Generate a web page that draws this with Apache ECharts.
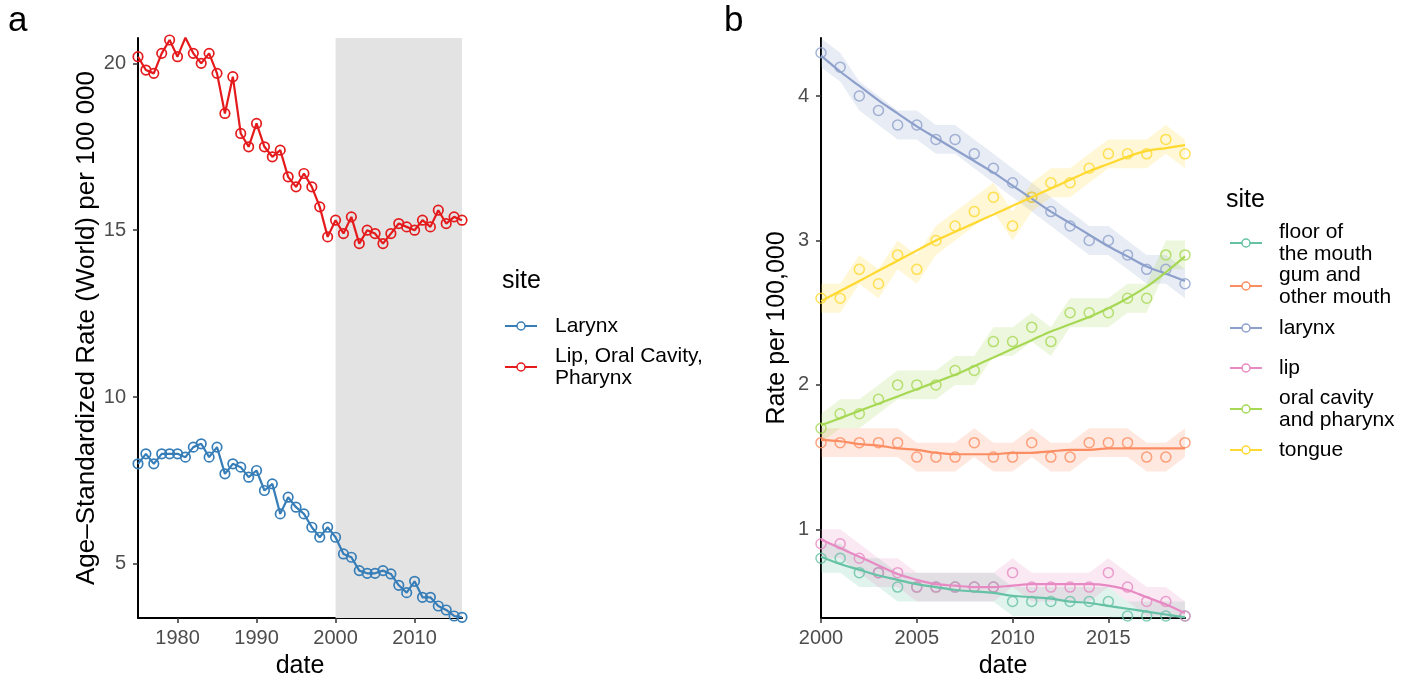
<!DOCTYPE html>
<html>
<head>
<meta charset="utf-8">
<script src="https://cdn.jsdelivr.net/npm/echarts@6/dist/echarts.min.js"></script>
<style>
html,body{margin:0;padding:0;background:#fff;}
#chart{width:1414px;height:684px;}
</style>
</head>
<body>
<div id="chart"></div>
<script>
// ---------- Panel a data ----------
const yearsA = [1975,1976,1977,1978,1979,1980,1981,1982,1983,1984,1985,1986,1987,1988,1989,1990,1991,1992,1993,1994,1995,1996,1997,1998,1999,2000,2001,2002,2003,2004,2005,2006,2007,2008,2009,2010,2011,2012,2013,2014,2015,2016];
const laryxA = [8.0,8.3,8.0,8.3,8.3,8.3,8.2,8.5,8.6,8.2,8.5,7.7,8.0,7.9,7.6,7.8,7.2,7.4,6.5,7.0,6.7,6.5,6.1,5.8,6.1,5.8,5.3,5.2,4.8,4.72,4.72,4.8,4.7,4.36,4.14,4.48,4.0,4.0,3.74,3.62,3.44,3.4];
const lipOralA = [20.2,19.8,19.7,20.3,20.7,20.2,20.77,20.3,20.0,20.3,19.7,18.5,19.6,17.9,17.5,18.2,17.5,17.2,17.4,16.6,16.3,16.7,16.3,15.7,14.8,15.3,14.9,15.4,14.6,15.0,14.9,14.6,14.9,15.2,15.1,15.0,15.3,15.1,15.6,15.2,15.4,15.3];
const shadeA = [2000, 2016];
const xTicksA = [1980,1990,2000,2010];
const yTicksA = [5,10,15,20];

// ---------- Panel b data ----------
const yearsB = [2000,2001,2002,2003,2004,2005,2006,2007,2008,2009,2010,2011,2012,2013,2014,2015,2016,2017,2018,2019];
const floorB  = [0.8,0.8,0.7,0.7,0.6,0.6,0.6,0.6,0.6,0.6,0.5,0.5,0.5,0.5,0.5,0.5,0.4,0.4,0.4,0.4];
const gumB    = [1.6,1.6,1.6,1.6,1.6,1.5,1.5,1.5,1.6,1.5,1.5,1.6,1.5,1.5,1.6,1.6,1.6,1.5,1.5,1.6];
const larynxB = [4.3,4.2,4.0,3.9,3.8,3.8,3.7,3.7,3.6,3.5,3.4,3.3,3.2,3.1,3.0,3.0,2.9,2.8,2.8,2.7];
const lipB    = [0.9,0.9,0.8,0.7,0.7,0.6,0.6,0.6,0.6,0.6,0.7,0.6,0.6,0.6,0.6,0.7,0.6,0.5,0.5,0.4];
const oralB   = [1.7,1.8,1.8,1.9,2.0,2.0,2.0,2.1,2.1,2.3,2.3,2.4,2.3,2.5,2.5,2.5,2.6,2.6,2.9,2.9];
const tongueB = [2.6,2.6,2.8,2.7,2.9,2.8,3.0,3.1,3.2,3.3,3.1,3.3,3.4,3.4,3.5,3.6,3.6,3.6,3.7,3.6];
// smoothed (loess) curves
const floorFit  = [0.81,0.76,0.72,0.68,0.65,0.62,0.60,0.58,0.57,0.56,0.54,0.53,0.52,0.50,0.49,0.47,0.45,0.43,0.41,0.39];
const gumFit    = [1.62,1.61,1.59,1.58,1.56,1.55,1.53,1.52,1.52,1.52,1.53,1.53,1.54,1.55,1.55,1.56,1.56,1.56,1.56,1.56];
const larynxFit = [4.28,4.17,4.07,3.97,3.88,3.79,3.71,3.63,3.55,3.47,3.38,3.29,3.20,3.12,3.04,2.96,2.89,2.82,2.77,2.72];
const lipFit    = [0.93,0.87,0.81,0.75,0.69,0.65,0.62,0.61,0.60,0.60,0.61,0.62,0.62,0.62,0.62,0.61,0.58,0.53,0.48,0.42];
const oralFit   = [1.72,1.77,1.82,1.87,1.92,1.97,2.02,2.07,2.13,2.19,2.25,2.31,2.37,2.42,2.47,2.53,2.60,2.68,2.78,2.89];
const tongueFit = [2.58,2.65,2.72,2.79,2.86,2.93,3.00,3.06,3.12,3.18,3.24,3.30,3.36,3.42,3.48,3.53,3.58,3.62,3.64,3.66];
const bandHalf = 0.1; // half-width of the shaded ribbons
const sitesB = ['floor of the mouth','gum and other mouth','larynx','lip','oral cavity and pharynx','tongue'];
const labelsB = ['floor of\nthe mouth','gum and\nother mouth','larynx','lip','oral cavity\nand pharynx','tongue'];
const xTicksB = [2000,2005,2010,2015];
const yTicksB = [1,2,3,4];

// ---------- styling ----------
const FONT = '"Liberation Sans", Arial, Helvetica, sans-serif';
const colA = {larynx:'#377EB8', lip:'#E41A1C'};
const colB = ['#66C2A5','#FC8D62','#8DA0CB','#E78AC3','#A6D854','#FFD92F'];
const valsB = [floorB, gumB, larynxB, lipB, oralB, tongueB];
const fitsB = [floorFit, gumFit, larynxFit, lipFit, oralFit, tongueFit];

function rgba(hex, a){
  const n = parseInt(hex.slice(1),16);
  return 'rgba(' + ((n>>16)&255) + ',' + ((n>>8)&255) + ',' + (n&255) + ',' + a + ')';
}
function pairs(xs, ys){ return xs.map((x,i)=>[x, ys[i]]); }

function axisBase(ticks, labelMargin){
  return {
    type:'value',
    axisLine:{show:true, onZero:false, lineStyle:{color:'#000', width:2}},
    axisTick:{show:true, length:5, customValues:ticks, lineStyle:{color:'#333', width:1.5}},
    axisLabel:{customValues:ticks, color:'#4d4d4d', fontSize:20, fontFamily:FONT, margin:labelMargin,
               formatter:function(v){ return String(v); }},
    splitLine:{show:false},
    nameLocation:'middle',
    nameTextStyle:{fontSize:25, color:'#000', fontFamily:FONT}
  };
}

const series = [];
// shaded region panel a
series.push({
  type:'line', xAxisIndex:0, yAxisIndex:0, data:[], z:1, silent:true,
  markArea:{silent:true, itemStyle:{color:'#e3e3e3'}, data:[[{xAxis:shadeA[0]},{xAxis:shadeA[1]}]]}
});
[['Larynx', laryxA, colA.larynx], ['Lip, Oral Cavity, Pharynx', lipOralA, colA.lip]].forEach(function(s){
  series.push({
    name:s[0], type:'line', xAxisIndex:0, yAxisIndex:0, z:3,
    data:pairs(yearsA, s[1]),
    symbol:'circle', symbolSize:9.5, showAllSymbol:true,
    lineStyle:{color:s[2], width:2.2},
    itemStyle:{color:'rgba(0,0,0,0)', borderColor:s[2], borderWidth:1.7},
    silent:true
  });
});

// panel b ribbons
sitesB.forEach(function(name, k){
  const v = valsB[k];
  series.push({
    type:'custom', xAxisIndex:1, yAxisIndex:1, z:1, silent:true,
    data:[[yearsB[0], v[0]]],
    renderItem:function(params, api){
      const pts = [];
      for (let i=0;i<yearsB.length;i++) pts.push(api.coord([yearsB[i], v[i]+bandHalf]));
      for (let i=yearsB.length-1;i>=0;i--) pts.push(api.coord([yearsB[i], v[i]-bandHalf]));
      const cs = params.coordSys;
      return {
        type:'polygon', shape:{points:pts},
        style:{fill:rgba(colB[k],0.2)},
        clipPath:{type:'rect', shape:{x:cs.x, y:cs.y, width:cs.width, height:cs.height}}
      };
    }
  });
});
// panel b points
sitesB.forEach(function(name, k){
  series.push({
    name:name, type:'scatter', xAxisIndex:1, yAxisIndex:1, z:3, silent:true,
    data:pairs(yearsB, valsB[k]), symbol:'circle', symbolSize:10,
    itemStyle:{color:'rgba(0,0,0,0)', borderColor:colB[k], borderWidth:1.5}
  });
});
// panel b smooth lines
sitesB.forEach(function(name, k){
  series.push({
    name:name, type:'line', xAxisIndex:1, yAxisIndex:1, z:4, silent:true,
    data:pairs(yearsB, fitsB[k]), showSymbol:false, smooth:0.35,
    lineStyle:{color:colB[k], width:2.2}
  });
});

// legends and panel letters as graphics
const graphics = [];
function txt(x, y, text, size, color, extra){
  const st = Object.assign({text:text, x:x, y:y, fill:color||'#000', font: size + 'px ' + FONT, verticalAlign:'middle', align:'left'}, extra||{});
  graphics.push({type:'text', silent:true, style:st});
}
function key(x, y, color){
  graphics.push({type:'line', silent:true, shape:{x1:x, y1:y, x2:x+32, y2:y}, style:{stroke:color, lineWidth:2}});
  graphics.push({type:'circle', silent:true, shape:{cx:x+16, cy:y, r:4}, style:{fill:'#fff', stroke:color, lineWidth:1.5}});
}
txt(8, 21, 'a', 35);
txt(724, 21, 'b', 35);
// legend a
txt(502, 281, 'site', 25);
key(505, 326, colA.larynx); txt(555, 326, 'Larynx', 21);
key(505, 367, colA.lip); txt(555, 367, 'Lip, Oral Cavity,\nPharynx', 21, '#000', {lineHeight:22});
// legend b
txt(1226, 200, 'site', 25);
const keyYB = [243, 286, 328, 368, 409, 450];
labelsB.forEach(function(l, k){
  key(1230, keyYB[k], colB[k]);
  txt(1279, keyYB[k], l, 21, '#000', {lineHeight:22});
});

const option = {
  animation:false,
  backgroundColor:'#fff',
  grid:[
    {left:138, top:38, width:324, height:580},
    {left:821, top:38, width:364, height:580}
  ],
  xAxis:[
    Object.assign(axisBase(xTicksA, 10), {gridIndex:0, min:1975, max:2016, name:'date', nameGap:36}),
    Object.assign(axisBase(xTicksB, 10), {gridIndex:1, min:2000, max:2019, name:'date', nameGap:36})
  ],
  yAxis:[
    Object.assign(axisBase(yTicksA, 12), {gridIndex:0, min:3.38, max:20.76, name:'Age\u2013Standardized Rate (World) per 100 000', nameGap:25,
      nameTextStyle:{fontSize:26, color:'#000', fontFamily:FONT}}),
    Object.assign(axisBase(yTicksB, 12), {gridIndex:1, min:0.386, max:4.402, name:'Rate per 100,000', nameGap:31,
      nameTextStyle:{fontSize:25, color:'#000', fontFamily:FONT}})
  ],
  series:series,
  graphic:graphics
};

const chart = echarts.init(document.getElementById('chart'), null, {renderer:'canvas'});
chart.setOption(option);
</script>
</body>
</html>
